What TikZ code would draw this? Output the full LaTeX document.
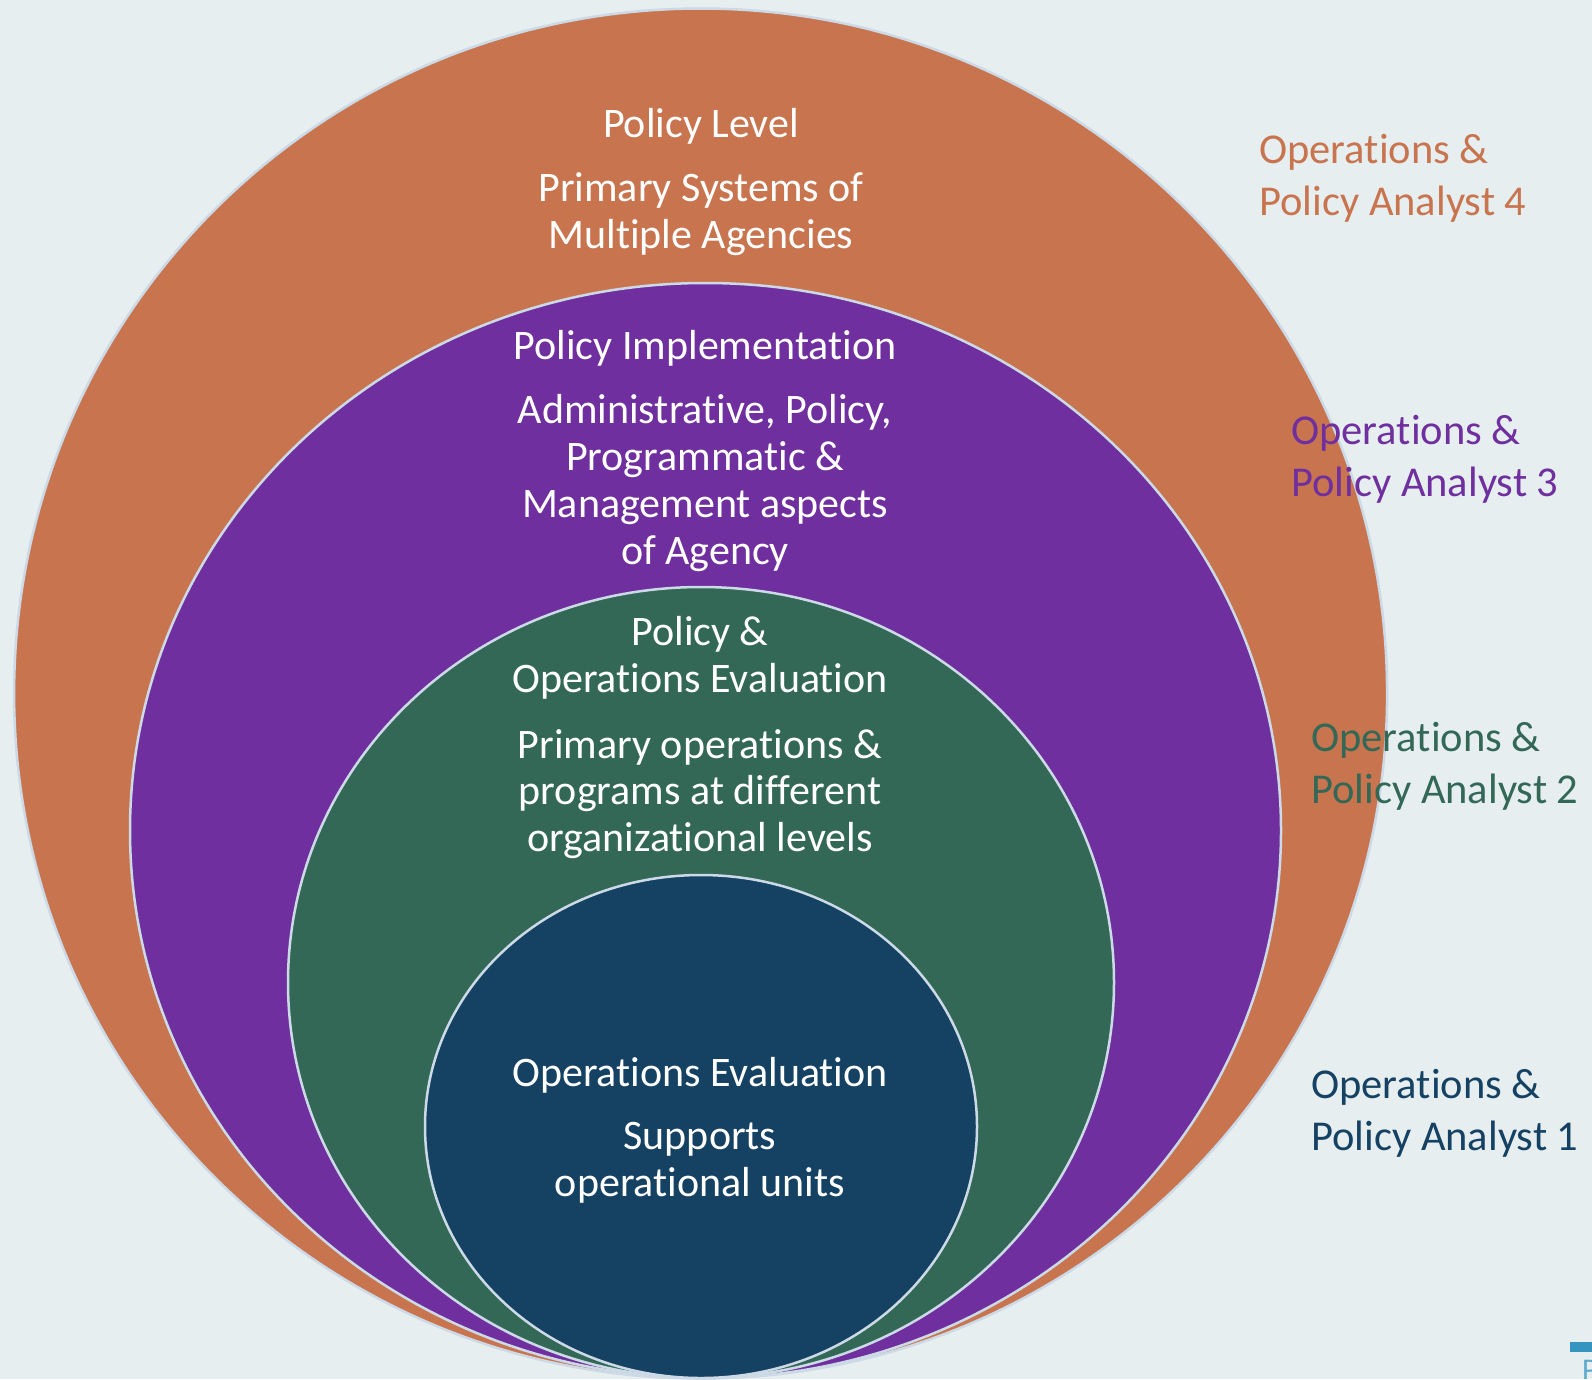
\documentclass[tikz,border=0pt]{standalone}
\usepackage{fontspec}
\setmainfont{Carlito}[Ligatures=NoCommon]
\definecolor{bg}{HTML}{E6EEF0}
\definecolor{corange}{HTML}{C8754F}
\definecolor{cpurple}{HTML}{702F9E}
\definecolor{cgreen}{HTML}{336857}
\definecolor{cnavy}{HTML}{154163}
\definecolor{rim}{HTML}{CCD9E6}
\definecolor{tagblue}{HTML}{3595C0}
\begin{document}
\begin{tikzpicture}[x=1pt,y=-1pt,
  ring/.style={draw=rim,line width=2.5pt},
  intext/.style={text=white,align=center,font=\fontsize{42}{46.7}\selectfont,inner sep=0pt},
  sidetext/.style={align=left,anchor=west,font=\fontsize{42.5}{52}\selectfont,inner sep=0pt}]
\fill[bg] (0,0) rectangle (1592,1379);
\useasboundingbox (0,0) rectangle (1592,1379);
\begin{scope}
\clip (0,0) rectangle (1592,1379);
\filldraw[ring,fill=corange] (700.6,693.5) ellipse (686.5 and 685);
\filldraw[ring,fill=cpurple] (705.5,830.5) ellipse (575.5 and 547.5);
\filldraw[ring,fill=cgreen] (701,982.5) ellipse (413 and 395.5);
\filldraw[ring,fill=cnavy] (701,1126.5) ellipse (276 and 251.5);
\fill[tagblue] (1570,1342) rectangle (1592,1352);
\node[anchor=north west,inner sep=0pt,text=tagblue!80,font=\fontsize{30}{30}\selectfont] (ptag) at (1582,1360) {P};
\end{scope}
\node[intext] (l4a) at (701,126) {Policy Level};
\node[intext] (l4b) at (701,214) {Primary Systems of\\Multiple Agencies};
\node[intext] (l3a) at (705,348) {Policy Implementation};
\node[intext] (l3b) at (705,483) {Administrative, Policy,\\Programmatic \&\\Management aspects\\of Agency};
\node[intext] (l2a) at (700,658) {Policy \&\\Operations Evaluation};
\node[intext] (l2b) at (700,794) {Primary operations \&\\programs at different\\organizational levels};
\node[intext] (l1a) at (700,1075) {Operations Evaluation};
\node[intext] (l1b) at (700,1163) {Supports\\operational units};
\node[sidetext,text=corange] (a4) at (1259,178) {Operations \&\\Policy Analyst 4};
\node[sidetext,text=cpurple] (a3) at (1291,459) {Operations \&\\Policy Analyst 3};
\node[sidetext,text=cgreen] (a2) at (1311,766) {Operations \&\\Policy Analyst 2};
\node[sidetext,text=cnavy] (a1) at (1311,1113) {Operations \&\\Policy Analyst 1};
\end{tikzpicture}
\end{document}
